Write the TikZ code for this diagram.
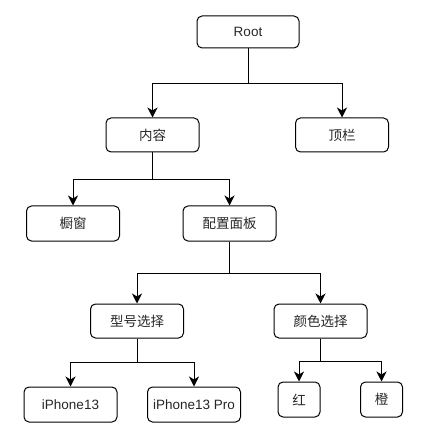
\documentclass[tikz,border=0pt]{standalone}
\usepackage{fontspec}
\setmainfont{Liberation Sans}
\newfontfamily\cjk{Noto Sans CJK SC}
\usetikzlibrary{positioning,arrows.meta,calc}

\begin{document}
\begin{tikzpicture}[x=1pt, y=-1pt,
  font=\fontsize{13.5}{16}\selectfont,
  box/.style={draw, rounded corners=5pt, line width=1pt, align=center,
              inner sep=2pt, minimum width=93pt, minimum height=34pt,
              text=black!85},
  tinybox/.style={box, minimum width=42pt},
  arr/.style={-{Stealth[length=10pt, width=10pt, inset=3pt]}, line width=1pt}]
\useasboundingbox (0,0) rectangle (438,435);
% levels
\node[box, minimum width=102pt, minimum height=32pt] (root) at (248,32) {Root};
\node[box] (content) at (152.5,135) {\cjk 内容};
\node[box] (topbar) at (342,135) {\cjk 顶栏};
\node[box, minimum height=35pt] (window) at (73,223.5) {\cjk 橱窗};
\node[box, minimum height=35pt] (panel) at (229.5,223.5) {\cjk 配置面板};
\node[box] (model) at (137,321) {\cjk 型号选择};
\node[box] (color) at (320.5,321) {\cjk 颜色选择};
\node[box, minimum height=35pt] (ip13) at (70.5,404.5) {iPhone13};
\node[box, minimum height=35pt] (ip13pro) at (194,404.5) {iPhone13 Pro};
\node[tinybox, minimum height=35pt] (red) at (299,399.5) {\cjk 红};
\node[tinybox, minimum height=35pt] (orange) at (381.5,399.5) {\cjk 橙};
% connectors
\draw[arr] (root.south) -- ++(0,35) -| (content.north);
\draw[arr] (root.south) -- ++(0,35) -| (topbar.north);
\draw[arr] (content.south) -- ++(0,27) -| (window.north);
\draw[arr] (content.south) -- ++(0,27) -| (panel.north);
\draw[arr] (panel.south) -- ++(0,32) -| (model.north);
\draw[arr] (panel.south) -- ++(0,32) -| (color.north);
\draw[arr] (model.south) -- ++(0,24) -| (ip13.north);
\draw[arr] (model.south) -- ++(0,24) -| (ip13pro.north);
\draw[arr] (color.south) -- ++(0,23) -| (red.north);
\draw[arr] (color.south) -- ++(0,23) -| (orange.north);
\end{tikzpicture}
\end{document}
